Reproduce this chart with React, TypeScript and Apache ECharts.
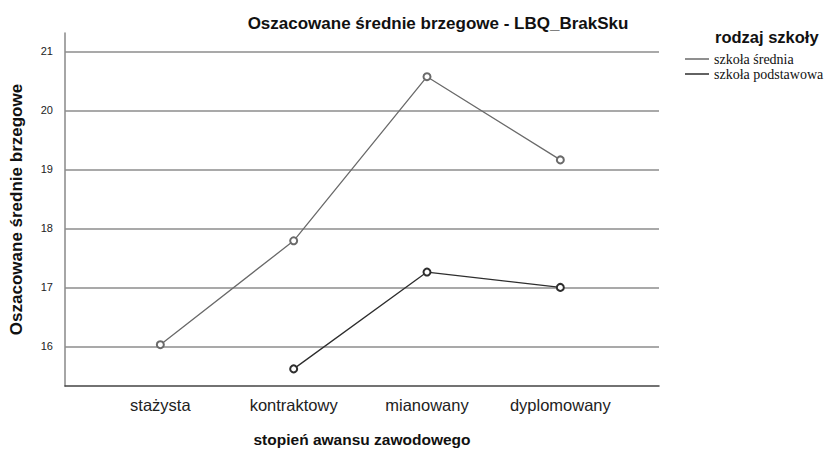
import { useEffect, useRef } from "react";
import * as echarts from "echarts";

const categories = ["stażysta", "kontraktowy", "mianowany", "dyplomowany"];
const seriesNames = ["szkoła średnia", "szkoła podstawowa"];
const sredniaValues = [16.03, 17.79, 20.57, 19.16];
const podstawowaValues: (number | null)[] = [null, 15.62, 17.26, 17.0];
const yTicks = [16, 17, 18, 19, 20, 21];
const chartTitle = "Oszacowane średnie brzegowe - LBQ_BrakSku";
const legendTitle = "rodzaj szkoły";
const yName = "Oszacowane średnie brzegowe";
const xName = "stopień awansu zawodowego";

const toPairs = (vals: (number | null)[]) =>
  vals.map((v, i) => (v == null ? null : [i, v])).filter((p) => p !== null);

export default function App() {
  const ref = useRef<HTMLDivElement>(null);
  useEffect(() => {
    document.body.style.margin = "0";
    const chart = echarts.init(ref.current!, null, { renderer: "svg" });
    const font = "Arial, 'Liberation Sans', sans-serif";
    chart.setOption({
      animation: false,
      backgroundColor: "#fff",
      title: [
        {
          text: chartTitle,
          left: 433,
          top: 10,
          textAlign: "center",
          textStyle: { fontFamily: font, fontSize: 17, fontWeight: "bold", color: "#111" },
        },
        {
          text: legendTitle,
          left: 710,
          top: 23,
          textStyle: { fontFamily: font, fontSize: 16.5, fontWeight: "bold", color: "#111" },
        },
      ],
      legend: {
        orient: "vertical",
        left: 680,
        top: 47,
        itemWidth: 24,
        itemHeight: 1.5,
        itemGap: 1,
        icon: "rect",
        data: seriesNames,
        textStyle: { fontFamily: "'Liberation Serif', 'Times New Roman', serif", fontSize: 14, color: "#111" },
      },
      grid: { left: 57, right: 167, top: 33, bottom: 59, containLabel: false },
      xAxis: {
        type: "value",
        min: -0.715,
        max: 3.74,
        name: xName,
        nameLocation: "middle",
        nameGap: 45,
        nameTextStyle: { fontFamily: font, fontSize: 15.5, fontWeight: "bold", color: "#111" },
        axisLine: { show: true, onZero: false, lineStyle: { color: "#444", width: 1.5 } },
        axisTick: { show: false },
        splitLine: { show: false },
        axisLabel: {
          customValues: [0, 1, 2, 3],
          formatter: (v: number) => categories[Math.round(v)] ?? "",
          fontFamily: font,
          fontSize: 16.5,
          color: "#222",
          margin: 10,
        },
      },
      yAxis: {
        type: "value",
        min: 15.33,
        max: 21.31,
        name: yName,
        nameLocation: "middle",
        nameGap: 40,
        nameTextStyle: { fontFamily: font, fontSize: 17, fontWeight: "bold", color: "#111" },
        axisLine: { show: true, onZero: false, lineStyle: { color: "#888", width: 1.5 } },
        axisTick: { show: false },
        splitLine: { show: false },
        axisLabel: {
          customValues: yTicks,
          fontFamily: font,
          fontSize: 11,
          color: "#222",
          margin: 12,
        },
      },
      series: [
        {
          name: seriesNames[0],
          type: "line",
          data: toPairs(sredniaValues),
          symbol: "emptyCircle",
          symbolSize: 7,
          color: "#6a6a6a",
          lineStyle: { color: "#6a6a6a", width: 1.3 },
          itemStyle: { color: "#6a6a6a", borderWidth: 1 },
          z: 3,
          markLine: {
            silent: true,
            symbol: "none",
            label: { show: false },
            lineStyle: { color: "#8c8c8c", width: 1.5, type: "solid" },
            data: yTicks.map((v) => ({ yAxis: v })),
            z: 1,
          },
        },
        {
          name: seriesNames[1],
          type: "line",
          data: toPairs(podstawowaValues),
          symbol: "emptyCircle",
          symbolSize: 7,
          color: "#2e2e2e",
          lineStyle: { color: "#2e2e2e", width: 1.3 },
          itemStyle: { color: "#2e2e2e", borderWidth: 1 },
          z: 3,
        },
      ],
    });
    return () => chart.dispose();
  }, []);
  return <div ref={ref} style={{ width: 826, height: 452 }} />;
}
